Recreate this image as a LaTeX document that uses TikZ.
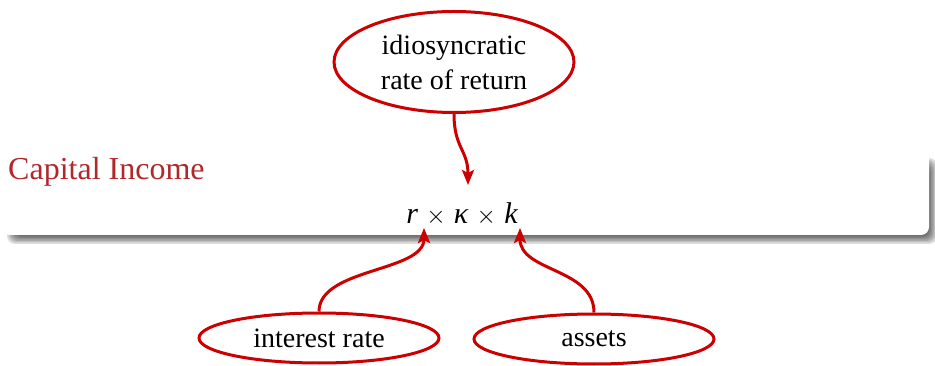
\documentclass[tikz,border=0pt]{standalone}
\usepackage{fontspec}
\setmainfont{Liberation Serif}
\usetikzlibrary{shapes.geometric,arrows.meta}
\definecolor{linered}{RGB}{204,0,0}
\definecolor{titlered}{RGB}{176,40,44}
\tikzset{
  bubble/.style={ellipse, draw=linered, line width=3pt, fill=white, inner sep=0pt,
    font=\fontsize{28}{35}\selectfont, align=center},
  link/.style={draw=linered, line width=3pt, -{Stealth[length=15pt,width=12pt,inset=3pt]}},
}
\begin{document}
\begin{tikzpicture}[x=1pt,y=-1pt]
\useasboundingbox (0,0) rectangle (935,366);
% shadow
\foreach \k in {0,1.5,3,4.5,6,7.5}{
  \fill[black, opacity=0.13, rounded corners=8pt] (7+\k,158+\k) rectangle (937-\k,244-\k);
}
% block body
\fill[white, rounded corners=8pt] (2,150) rectangle (929,235);
\node[anchor=base west, text=titlered, font=\fontsize{32}{38}\selectfont, inner sep=0pt] (title) at (8,180) {Capital Income};
\node[font=\fontsize{30}{36}\selectfont, inner sep=0pt] (f) at (462,214) {$\textit{r}\mskip2mu\times\mskip2mu\textit{κ}\mskip2mu\times\mskip2mu\textit{k}$};
\coordinate (kin) at (468,185);
\coordinate (rin) at (424,228);
\coordinate (kout) at (520,228);
% ellipses
\node[bubble, minimum width=240pt, minimum height=101pt] (idio) at (454,62) {idiosyncratic\\rate of return};
\node[bubble, minimum width=240pt, minimum height=50pt] (ir) at (319,338) {interest rate};
\node[bubble, minimum width=240pt, minimum height=50pt] (as) at (594,339) {assets};
% connectors
\draw[link] (idio.south) .. controls (454,148) and (468,150) .. (kin);
\draw[link] (ir.north) .. controls (319,268) and (424,272) .. (rin);
\draw[link] (as.north) .. controls (594,268) and (520,272) .. (kout);
\end{tikzpicture}
\end{document}
